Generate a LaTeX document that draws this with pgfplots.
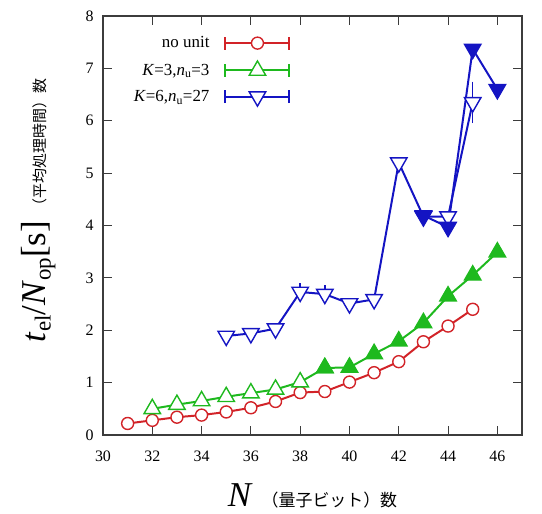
\documentclass[border=0pt]{standalone}
\usepackage{fontspec}
\setmainfont{Liberation Serif}
\newfontfamily\jp{Noto Sans CJK JP}
\usepackage{pgfplots}
\pgfplotsset{compat=1.18}
\definecolor{cred}{RGB}{210,35,40}
\definecolor{cgreen}{RGB}{30,185,30}
\definecolor{cblue}{RGB}{20,20,195}
\definecolor{axgray}{RGB}{60,60,60}
\newcommand\legimg[2]{%
  \path[draw=none, fill=none] (0bp,-1bp) rectangle (78bp,1bp);
  \draw[#1, line width=2pt] (14bp,0bp) -- (78bp,0bp) (14bp,-6.5bp) -- (14bp,6.5bp) (78bp,-6.5bp) -- (78bp,6.5bp);
  \draw[#1, line width=1.4pt, #2] plot coordinates {(46bp,0bp)};%
}
\begin{document}
\begin{tikzpicture}
\begin{axis}[name=ax, scale only axis, width=419bp, height=419bp,
  xmin=30, xmax=47, ymin=0, ymax=8,
  xtick={30,32,...,46}, ytick={0,1,...,8},
  tick align=inside, major tick length=9bp,
  axis line style={axgray, line width=1.2pt},
  every tick/.style={axgray, line width=1pt},
  tick label style={font=\fontsize{16}{16}\selectfont, /pgf/number format/assume math mode=true},
  xticklabel style={yshift=-12bp},
  yticklabel style={xshift=-6bp},
  clip=false,
  legend style={draw=none, fill=none, at={(0.455,0.87)}, anchor=east,
    font=\fontsize{17}{17}\selectfont, row sep=9.5bp},
  legend cell align=right,
  legend plot pos=right,
]
% no unit
\addplot[cred, line width=2pt, mark=*, mark size=6bp, mark options={fill=white, line width=1.4pt},
  legend image code/.code={\legimg{cred}{mark=*, mark size=6bp, mark options={fill=white}}}]
coordinates {(31,0.22)(32,0.28)(33,0.34)(34,0.38)(35,0.44)(36,0.52)(37,0.64)(38,0.81)(39,0.83)(40,1.01)(41,1.19)(42,1.40)(43,1.78)(44,2.08)(45,2.40)};
\addlegendentry{no unit}
% K=3
\addplot[cgreen, line width=2pt, mark=triangle*, mark size=9.5bp, mark options={fill=white, line width=1.4pt},
  legend image code/.code={\legimg{cgreen}{mark=triangle*, mark size=9.5bp, mark options={fill=white}}}]
coordinates {(32,0.50)(33,0.58)(34,0.65)(35,0.73)(36,0.80)(37,0.87)(38,1.01)(39,1.28)};
\addlegendentry{\textit{K}=3,\textit{n}\textsubscript{u}=3}
\addplot[cgreen, line width=2pt, mark=triangle*, mark size=9.5bp, mark options={fill=cgreen, line width=1.4pt}, forget plot]
coordinates {(39,1.28)(40,1.29)(41,1.55)(42,1.79)(43,2.14)(44,2.65)(45,3.05)(46,3.49)};
% K=6
\addplot[cblue, line width=2pt, mark=triangle*, mark size=9.5bp, mark options={fill=white, line width=1.4pt, rotate=180},
  legend image code/.code={\legimg{cblue}{mark=triangle*, mark size=9.5bp, mark options={fill=white, rotate=180}}},
  error bars/.cd, y dir=both, y explicit, error bar style={line width=1.4pt}, error mark options={line width=1.4pt, mark size=5bp}]
coordinates {(35,1.89)(36,1.94)(37,2.03)(38,2.73)+-(0,0.07)(39,2.69)+-(0,0.07)(40,2.51)(41,2.59)(42,5.20)(43,4.17)(44,4.17)(45,6.35)+-(0,0.3)};
\addlegendentry{\textit{K}=6,\textit{n}\textsubscript{u}=27}
\addplot[cblue, line width=2pt, mark=triangle*, mark size=9.5bp, mark options={fill=cblue, line width=1.4pt, rotate=180}, forget plot]
coordinates {(43,4.19)(44,3.97)(45,7.37)(46,6.60)};
\end{axis}
\node[anchor=base] at ([yshift=-71bp]ax.south) {\fontsize{35}{35}\selectfont\textit{N}\hspace{9bp}{\jp\fontsize{17}{17}\selectfont （量子ビット）数}};
\node[rotate=90, anchor=base] at ([xshift=-58bp,yshift=15bp]ax.west) {{\fontsize{35}{35}\selectfont\textit{t}\raisebox{-5.5bp}{\fontsize{23}{23}\selectfont el}/\textit{N}\raisebox{-5.5bp}{\fontsize{23}{23}\selectfont op}[s]}\hspace{8bp}{\jp\fontsize{15}{15}\selectfont （平均処理時間）数}};
\pgfresetboundingbox
\path[use as bounding box] ([xshift=-103bp,yshift=-79bp]ax.south west) rectangle ([xshift=20bp,yshift=16bp]ax.north east);
\end{tikzpicture}
\end{document}
